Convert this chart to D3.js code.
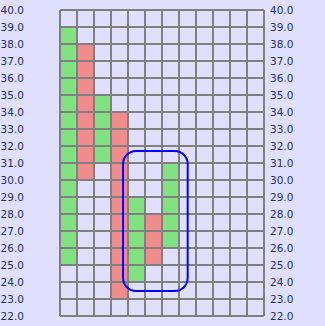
<!DOCTYPE html>
<html><head><meta charset="utf-8">
<script src="https://cdn.jsdelivr.net/npm/d3@7/dist/d3.min.js"></script>
<style>html,body{margin:0;padding:0;background:#e0e0fc;}svg{display:block;}</style>
</head><body>
<svg id="c" width="325" height="326"></svg>
<script>
const yTicks = [22,23,24,25,26,27,28,29,30,31,32,33,34,35,36,37,38,39,40];
const columnCount = 12;
const colIndex = [0,1,2,3,4,5,6];
const colType = ["up","down","up","down","up","down","up"];
const colTop = [39,38,35,34,29,28,31];
const colBottom = [25,30,31,23,24,25,26];
// highlighted region (column units, price units)
const regionX = [3.71, 7.51];
const regionY = [23.47, 31.71];

const svg = d3.select("#c");
const x = d3.scaleLinear().domain([0, columnCount]).range([60, 264]);
const y = d3.scaleLinear().domain([22, 40]).range([316, 10]);
const colors = {up:"#82e282", down:"#f08c8c"};

svg.append("rect").attr("width",325).attr("height",326).attr("fill","#e0e0fc");

const g = svg.append("g");
colIndex.forEach((c,i)=>{
  g.append("rect")
    .attr("x", x(c)).attr("y", y(colTop[i]))
    .attr("width", x(c+1)-x(c)).attr("height", y(colBottom[i])-y(colTop[i]))
    .attr("fill", colors[colType[i]]);
});

const grid = svg.append("g").attr("stroke","#808080").attr("stroke-width",1.5).attr("shape-rendering","crispEdges");
yTicks.forEach(v=>{
  grid.append("line").attr("x1",x(0)).attr("x2",x(columnCount)).attr("y1",y(v)).attr("y2",y(v));
});
d3.range(columnCount+1).forEach(c=>{
  grid.append("line").attr("x1",x(c)).attr("x2",x(c)).attr("y1",y(22)).attr("y2",y(40));
});

svg.append("rect")
  .attr("x", x(regionX[0])).attr("y", y(regionY[1]))
  .attr("width", x(regionX[1])-x(regionX[0])).attr("height", y(regionY[0])-y(regionY[1]))
  .attr("rx",13).attr("ry",13)
  .attr("fill","none").attr("stroke","#0000ff").attr("stroke-width",2);

const leftAxis = d3.axisLeft(y).tickValues(yTicks).tickFormat(d3.format(".1f")).tickSize(0).tickPadding(0);
const rightAxis = d3.axisRight(y).tickValues(yTicks).tickFormat(d3.format(".1f")).tickSize(0).tickPadding(0);
const la = svg.append("g").attr("transform","translate(24,0)").call(leftAxis);
const ra = svg.append("g").attr("transform","translate(270,0)").call(rightAxis);
[la,ra].forEach(a=>{
  a.select(".domain").remove();
  a.selectAll("text").attr("fill","#1c2f78").style("font-family","DejaVu Sans").style("font-size","10.5px");
});
</script>
</body></html>
